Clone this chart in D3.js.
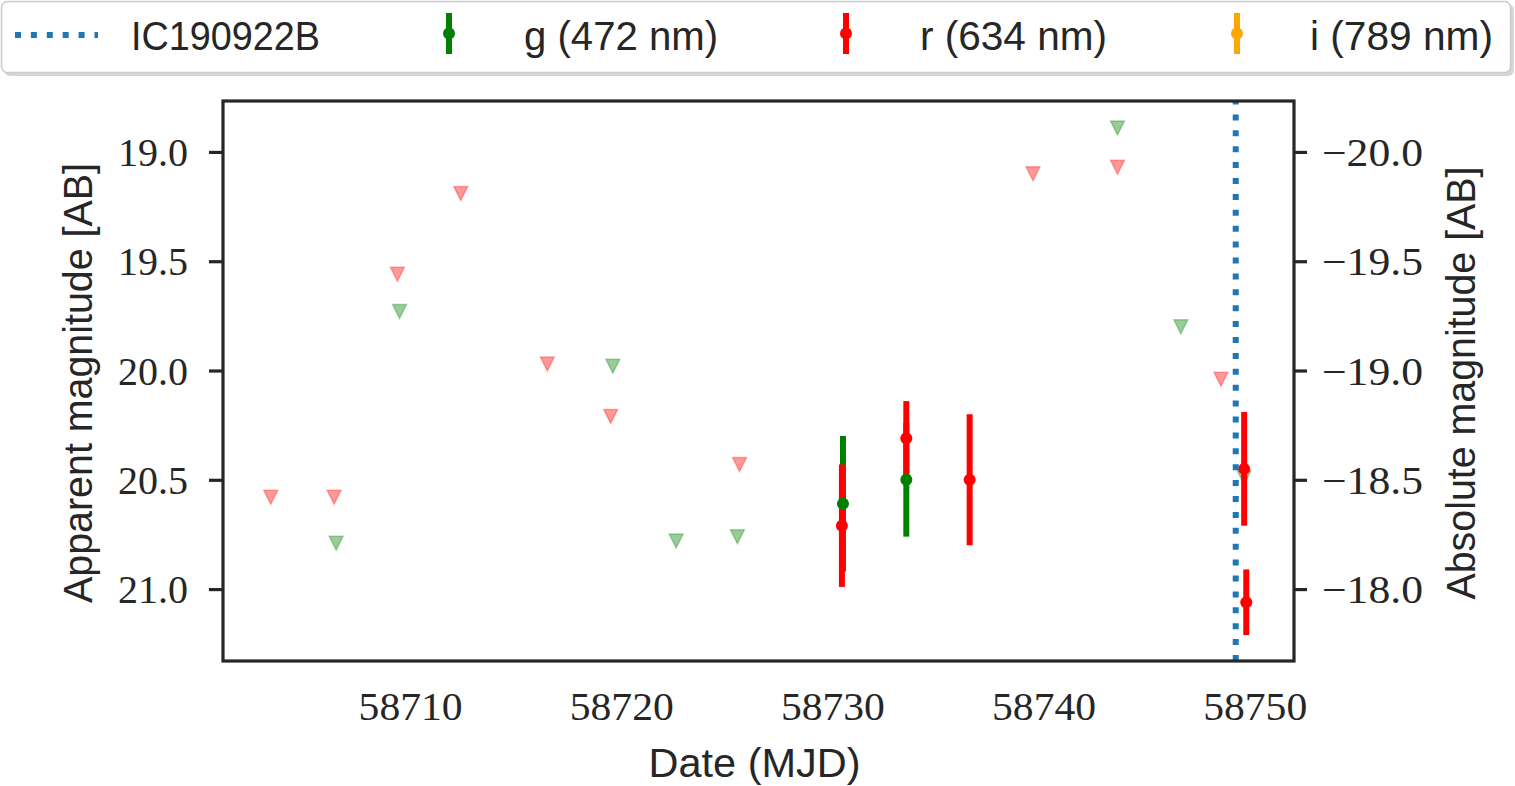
<!DOCTYPE html>
<html><head><meta charset="utf-8">
<script src="https://cdn.jsdelivr.net/npm/d3@7"></script>
<style>body{margin:0;background:#fff}svg{display:block}</style>
</head><body>
<script>
// ---------- data ----------
const xTicks = [58710, 58720, 58730, 58740, 58750];
const yTicks = [19.0, 19.5, 20.0, 20.5, 21.0];
const absTicks = [-20.0, -19.5, -19.0, -18.5, -18.0];
const distMod = 39.0;
const eventName = "IC190922B";
const eventMJD = 58749.1;
const bands = ["g (472 nm)", "r (634 nm)", "i (789 nm)"];
const bandColors = ["green", "red", "orange"];
// upper limits [mjd, mag]
const gLimMJD = [58706.5, 58709.5, 58719.6, 58722.6, 58725.5, 58743.5, 58746.5, 58749.5];
const gLimMag = [20.79, 19.73, 19.98, 20.78, 20.76, 18.89, 19.80, 20.49];
const rLimMJD = [58703.4, 58706.4, 58709.4, 58712.4, 58716.5, 58719.5, 58725.6, 58739.5, 58743.5, 58748.4];
const rLimMag = [20.58, 20.58, 19.56, 19.19, 19.97, 20.21, 20.43, 19.10, 19.07, 20.04];
// detections
const gDetMJD = [58730.5, 58733.5];
const gDetMag = [20.61, 20.50];
const gDetErr = [0.31, 0.26];
const rDetMJD = [58730.45, 58733.5, 58736.5, 58749.5, 58749.6];
const rDetMag = [20.71, 20.31, 20.50, 20.45, 21.06];
const rDetErr = [0.28, 0.17, 0.30, 0.26, 0.15];

// ---------- layout ----------
const W = 1515, H = 786;
const L = 223, R = 1294, T = 101, B = 661;
const ink = "#262626";
const sans = "'Liberation Sans', 'DejaVu Sans', sans-serif";
const serif = "'Liberation Serif', 'DejaVu Serif', serif";

const svg = d3.select("body").append("svg").attr("width", W).attr("height", H);

const x = d3.scaleLinear().domain([58701.14, 58751.86]).range([L, R]);
const y = d3.scaleLinear().domain([18.767, 21.329]).range([T, B]);
const y2 = d3.scaleLinear().domain([18.767 - distMod, 21.329 - distMod]).range([T, B]);

// ---------- axes ----------
const fmt = d3.format(".1f");
const gx = svg.append("g").attr("transform", `translate(0,${B})`)
  .call(d3.axisBottom(x).tickValues(xTicks).tickFormat(d3.format("d")).tickSize(0).tickPadding(31));
const gy = svg.append("g").attr("transform", `translate(${L},0)`)
  .call(d3.axisLeft(y).tickValues(yTicks).tickFormat(fmt).tickSize(14).tickPadding(21));
const gy2 = svg.append("g").attr("transform", `translate(${R},0)`)
  .call(d3.axisRight(y2).tickValues(absTicks).tickFormat(d => fmt(d).replace("-", "\u2212")).tickSize(13).tickPadding(15));
[gx, gy, gy2].forEach(g => {
  g.select(".domain").remove();
  g.selectAll(".tick line").attr("stroke", ink).attr("stroke-width", 3.2);
  g.selectAll(".tick text").attr("fill", ink).style("font-family", serif).style("font-size", "40px");
});
gy.selectAll(".tick text").attr("dy", "0.34em");
gy2.selectAll(".tick text").attr("dy", "0.34em").attr("textLength", 101).attr("lengthAdjust", "spacingAndGlyphs");
gx.selectAll(".tick text").attr("textLength", 104).attr("lengthAdjust", "spacingAndGlyphs");

// axis labels
svg.append("text").attr("x", (L + R) / 2 - 4).attr("y", 777).attr("text-anchor", "middle")
  .attr("fill", ink).style("font-family", sans).style("font-size", "40px")
  .attr("textLength", 212).attr("lengthAdjust", "spacingAndGlyphs").text("Date (MJD)");
svg.append("text").attr("transform", `translate(92,${(T + B) / 2 + 2}) rotate(-90)`).attr("text-anchor", "middle")
  .attr("fill", ink).style("font-family", sans).style("font-size", "40px")
  .attr("textLength", 440).attr("lengthAdjust", "spacingAndGlyphs").text("Apparent magnitude [AB]");
svg.append("text").attr("transform", `translate(1475,${(T + B) / 2 + 2}) rotate(-90)`).attr("text-anchor", "middle")
  .attr("fill", ink).style("font-family", sans).style("font-size", "40px")
  .attr("textLength", 433).attr("lengthAdjust", "spacingAndGlyphs").text("Absolute magnitude [AB]");

// ---------- marks ----------
const downTri = {
  draw(ctx, size) {
    const h = Math.sqrt(size) / 2;
    ctx.moveTo(0, h); ctx.lineTo(-h, -h); ctx.lineTo(h, -h); ctx.closePath();
  }
};
const triPath = d3.symbol().type(downTri).size(14 * 14);
const plot = svg.append("g");

function limits(mjd, mag, col) {
  plot.append("g").selectAll("path").data(mjd.map((d, i) => [d, mag[i]])).join("path")
    .attr("d", triPath)
    .attr("transform", d => `translate(${x(d[0])},${y(d[1])})`)
    .attr("fill", col).attr("fill-opacity", 0.4)
    .attr("stroke", col).attr("stroke-opacity", 0.3).attr("stroke-width", 1.5);
}
limits(gLimMJD, gLimMag, "green");
limits(rLimMJD, rLimMag, "red");

const gDet = gDetMJD.map((d, i) => ({ t: d, m: gDetMag[i], e: gDetErr[i] }));
const rDet = rDetMJD.map((d, i) => ({ t: d, m: rDetMag[i], e: rDetErr[i] }));
function bars(data, col) {
  plot.append("g").selectAll("line").data(data).join("line")
    .attr("x1", d => x(d.t)).attr("x2", d => x(d.t))
    .attr("y1", d => y(d.m - d.e)).attr("y2", d => y(d.m + d.e))
    .attr("stroke", col).attr("stroke-width", 6);
}
function dots(data, col) {
  plot.append("g").selectAll("circle").data(data).join("circle")
    .attr("cx", d => x(d.t)).attr("cy", d => y(d.m)).attr("r", 6).attr("fill", col);
}
bars(gDet, "green"); bars(rDet, "red");
dots(gDet, "green"); dots(rDet, "red");

// event line (dash pattern starts at bottom)
plot.append("line").attr("x1", x(eventMJD)).attr("x2", x(eventMJD)).attr("y1", B).attr("y2", T)
  .attr("stroke", "#1f77b4").attr("stroke-width", 6).attr("stroke-dasharray", "6,9.9");

// frame
svg.append("rect").attr("x", L).attr("y", T).attr("width", R - L).attr("height", B - T)
  .attr("fill", "none").attr("stroke", ink).attr("stroke-width", 3.2);

// ---------- legend ----------
const lg = svg.append("g");
lg.append("rect").attr("x", 4).attr("y", 4).attr("width", 1510).attr("height", 72).attr("rx", 6)
  .attr("fill", "#d6d6d6");
lg.append("rect").attr("x", 1.5).attr("y", 1.5).attr("width", 1509).attr("height", 71).attr("rx", 6)
  .attr("fill", "#fff").attr("stroke", "#cccccc").attr("stroke-width", 1.5);
lg.append("line").attr("x1", 15).attr("x2", 98).attr("y1", 35).attr("y2", 35)
  .attr("stroke", "#1f77b4").attr("stroke-width", 6).attr("stroke-dasharray", "6,9.9");
const legTxt = [eventName].concat(bands);
const legX = [131, 524, 920, 1310];
const legLen = [189, 194, 187, 183];
const iconX = [449, 846, 1237];
legTxt.forEach((t, i) => {
  lg.append("text").attr("x", legX[i]).attr("y", 50).attr("fill", ink)
    .style("font-family", sans).style("font-size", "40px")
    .attr("textLength", legLen[i]).attr("lengthAdjust", "spacingAndGlyphs").text(t);
});
bandColors.forEach((c, i) => {
  lg.append("line").attr("x1", iconX[i]).attr("x2", iconX[i]).attr("y1", 13).attr("y2", 54)
    .attr("stroke", c).attr("stroke-width", 6);
  lg.append("circle").attr("cx", iconX[i]).attr("cy", 33.5).attr("r", 6).attr("fill", c);
});
</script>
</body></html>
